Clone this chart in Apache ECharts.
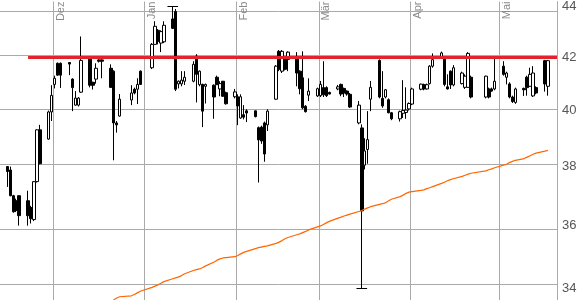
<!DOCTYPE html>
<html><head><meta charset="utf-8">
<script src="https://cdn.jsdelivr.net/npm/echarts@6/dist/echarts.min.js"></script>
<style>html,body{margin:0;padding:0;background:#fff}#c{width:587px;height:300px}</style>
</head><body><div id="c"></div>
<script>
const dates = [
'2010-11-15','2010-11-16','2010-11-17','2010-11-18','2010-11-19','2010-11-22','2010-11-23','2010-11-24','2010-11-25','2010-11-26','2010-11-29','2010-11-30',
'2010-12-01','2010-12-02','2010-12-03','2010-12-06','2010-12-07','2010-12-08','2010-12-09','2010-12-10','2010-12-13','2010-12-14','2010-12-15','2010-12-16','2010-12-17','2010-12-20','2010-12-21','2010-12-22','2010-12-23','2010-12-27','2010-12-28','2010-12-29','2010-12-30',
'2011-01-03','2011-01-04','2011-01-05','2011-01-06','2011-01-07','2011-01-10','2011-01-11','2011-01-12','2011-01-13','2011-01-14','2011-01-17','2011-01-18','2011-01-19','2011-01-20','2011-01-21','2011-01-24','2011-01-25','2011-01-26','2011-01-27','2011-01-28','2011-01-31',
'2011-02-01','2011-02-02','2011-02-03','2011-02-04','2011-02-07','2011-02-08','2011-02-09','2011-02-10','2011-02-11','2011-02-14','2011-02-15','2011-02-16','2011-02-17','2011-02-18','2011-02-21','2011-02-22','2011-02-23','2011-02-24','2011-02-25','2011-02-28',
'2011-03-01','2011-03-02','2011-03-03','2011-03-04','2011-03-07','2011-03-08','2011-03-09','2011-03-10','2011-03-11','2011-03-14','2011-03-15','2011-03-16','2011-03-17','2011-03-18','2011-03-21','2011-03-22','2011-03-23','2011-03-24','2011-03-25','2011-03-28','2011-03-29','2011-03-30','2011-03-31',
'2011-04-01','2011-04-04','2011-04-05','2011-04-06','2011-04-07','2011-04-08','2011-04-11','2011-04-12','2011-04-13','2011-04-14','2011-04-15','2011-04-18','2011-04-19','2011-04-20','2011-04-21','2011-04-26','2011-04-27','2011-04-28','2011-04-29',
'2011-05-02','2011-05-03','2011-05-04','2011-05-05','2011-05-06','2011-05-09','2011-05-10','2011-05-11','2011-05-12','2011-05-13','2011-05-16','2011-05-17'
];
const opens = [
38.00,37.88,37.00,36.83,37.00,36.83,36.60,36.20,37.48,39.30,38.97,39.95,
40.97,41.77,41.77,41.80,41.17,40.20,40.20,40.68,41.96,41.05,41.17,41.90,41.90,41.58,41.47,39.55,39.80,40.39,40.79,40.79,41.47,
41.60,42.50,43.05,42.55,42.60,43.50,43.80,40.99,40.99,41.09,41.09,42.05,40.96,40.97,40.90,40.94,41.24,40.80,41.09,40.66,40.51,
40.51,39.73,39.85,39.99,39.99,39.38,39.40,39.55,39.48,40.42,42.23,41.47,41.92,41.92,41.97,41.47,41.22,40.16,40.57,40.54,
40.55,40.85,40.85,40.67,40.80,40.97,40.82,40.72,40.60,39.55,39.37,38.05,38.60,40.42,41.88,40.45,40.50,40.40,39.92,39.70,39.90,39.93,40.06,
40.24,40.79,40.96,40.80,41.00,41.66,42.00,42.00,40.88,41.47,40.95,41.00,40.86,40.86,41.24,40.50,40.80,40.80,40.80,
41.66,41.24,40.99,40.50,40.30,40.82,41.24,40.90,40.54,40.85,41.87,40.90
];
const closes = [
37.83,37.00,36.46,36.50,36.33,36.33,36.23,37.48,39.30,38.10,39.95,40.56,
41.20,41.32,41.32,41.74,40.85,40.46,40.46,41.88,40.94,40.94,41.58,41.85,41.85,40.86,39.55,39.48,40.42,40.65,40.65,40.97,40.97,
42.50,43.21,42.62,43.00,43.25,43.13,40.79,41.09,41.13,41.24,41.73,41.35,41.47,39.98,40.97,40.50,40.96,41.00,40.53,40.25,40.69,
40.17,40.51,39.76,39.91,39.78,38.94,38.90,38.44,39.98,41.66,41.54,42.23,41.54,42.20,41.40,40.81,40.10,39.96,40.72,40.81,
40.97,40.58,40.55,40.61,40.88,40.61,40.65,40.61,40.13,40.20,36.49,38.55,38.95,40.86,40.50,40.17,40.77,39.92,39.70,39.96,40.00,40.02,40.26,
40.80,40.98,40.80,40.96,41.66,41.91,42.17,40.97,40.80,40.95,41.60,41.40,41.28,42.15,40.50,41.28,40.50,40.72,41.09,
41.35,41.40,40.50,40.33,40.80,40.77,40.85,41.35,41.40,40.65,40.99,41.87
];
const lows = [
37.30,36.98,36.43,36.45,36.00,36.00,36.07,36.15,37.45,38.08,38.95,39.62,
40.82,41.30,40.84,41.32,39.98,40.18,40.15,40.65,40.86,40.78,41.00,41.80,41.20,40.84,38.22,39.20,39.78,40.20,40.60,40.24,40.95,
41.55,42.48,42.50,42.20,42.55,43.10,40.72,40.82,40.90,40.95,41.05,40.30,40.90,39.40,40.26,39.70,40.95,40.53,40.50,40.22,40.45,
39.47,39.70,39.68,39.58,39.75,37.45,38.80,38.17,39.26,40.40,41.47,41.40,41.50,41.47,40.90,40.60,40.05,39.93,40.35,40.50,
40.50,40.50,40.50,40.60,40.75,40.53,40.50,40.55,40.10,39.50,34.00,37.90,38.10,39.98,40.45,40.10,40.45,39.90,39.65,39.60,39.73,39.70,40.00,
40.20,40.75,40.75,40.78,40.97,41.60,41.95,40.90,40.78,40.80,40.90,40.97,40.80,40.85,40.45,40.45,40.45,40.70,40.75,
41.30,40.97,40.45,40.28,40.25,40.54,40.55,40.88,40.50,40.60,40.70,40.55
];
const highs = [
38.02,38.00,37.03,36.90,37.02,37.17,36.66,37.50,39.32,39.48,40.00,40.94,
41.30,41.80,41.80,41.82,41.20,40.72,40.50,42.81,42.05,41.07,41.77,41.92,41.92,41.73,41.50,39.62,40.61,40.94,40.85,41.20,41.50,
42.55,43.41,43.10,43.05,43.41,44.00,43.90,41.12,41.47,41.47,41.85,42.12,41.50,41.00,41.00,40.97,41.30,41.09,41.10,40.70,40.80,
40.60,40.60,40.20,40.05,40.00,39.42,39.45,39.60,40.05,41.70,42.28,42.28,41.95,42.23,42.20,41.50,42.23,40.20,41.20,40.85,
41.10,41.85,40.90,40.70,40.95,41.00,40.85,40.75,40.65,40.35,39.50,39.00,39.98,41.10,41.92,41.47,40.80,40.45,39.95,40.00,41.13,40.86,40.30,
40.85,41.00,41.00,41.00,41.70,42.15,42.22,42.05,41.35,41.50,41.70,41.45,41.35,42.20,41.30,41.30,40.85,40.85,41.97,
41.85,41.45,41.05,40.55,40.85,40.85,41.30,41.60,41.66,40.90,41.90,41.90
];
const maStart = '2010-12-20';
const maValues = [
33.58,33.63,33.69,33.73,33.76,33.80,33.85,33.90,
34.02,34.06,34.10,34.15,34.20,34.29,34.32,34.35,34.39,34.45,34.55,34.58,34.60,34.64,34.69,34.82,34.88,34.92,34.95,34.96,34.99,
35.03,35.08,35.13,35.16,35.25,35.28,35.30,35.32,35.34,35.42,35.46,35.51,35.57,35.61,35.70,35.73,35.77,35.81,35.86,35.96,
35.99,36.04,36.09,36.14,36.25,36.28,36.32,36.35,36.38,36.47,36.50,36.55,36.59,36.63,36.71,36.73,36.76,36.82,36.88,36.97,37.02,37.08,37.12,
37.14,37.18,37.20,37.24,37.27,37.31,37.42,37.46,37.51,37.55,37.58,37.66,37.70,37.74,37.77,37.85,37.89,37.92,37.96,
38.05,38.08,38.14,38.18,38.22,38.28,38.33,38.38,38.43,38.47,38.54,38.57
];
const yTicks = [34, 36, 38, 40, 42, 44];
const monthStarts = ['2010-12-01','2011-01-01','2011-02-01','2011-03-01','2011-04-01','2011-05-01'];
const monthLabels = ['Dez','Jan','Feb','Mär','Apr','Mai'];
const resistanceLevel = 42;
const resistanceStart = '2010-11-22';

const DAY = 86400000;
function tsDay(s){const p=s.split('-').map(Number);return Date.UTC(p[0],p[1]-1,p[2]);}
function tsNoon(s){return tsDay(s)+DAY/2;}
const L = Math.log;

const xMin = tsDay('2010-11-13');
const xMax = xMin + 188.6*DAY;
const yMin = L(33.63), yMax = L(44.20);

const candleData = dates.map((d,i)=>[tsNoon(d), L(opens[i]), L(closes[i]), L(lows[i]), L(highs[i])]);
const i0 = dates.indexOf(maStart);
const maData = maValues.map((v,k)=>[tsNoon(dates[i0+k]), L(v)]);

let iHi = 0, iLo = 0;
highs.forEach((v,i)=>{ if (v > highs[iHi]) iHi = i; });
lows.forEach((v,i)=>{ if (v < lows[iLo]) iLo = i; });
const capHalf = 1.8*DAY;

const monthTs = monthStarts.map(tsDay);
const gridColor = '#aaaaaa';
const font = 'Liberation Sans, Arial, sans-serif';

const monthLines = monthTs.map((t,i)=>({
  xAxis: t,
  label: {show: true, formatter: monthLabels[i], position: 'insideEndBottom', distance: [0, 2],
          color: '#8a8a8a', fontSize: 11, fontFamily: font}
}));
const priceLines = yTicks.map(v=>({yAxis: L(v), label: {show: false}}));

const chart = echarts.init(document.getElementById('c'), null, {renderer:'canvas'});
chart.setOption({
  useUTC: true,
  animation: false,
  backgroundColor: '#fff',
  grid: {left: 0, right: 30, top: 0, bottom: 0, containLabel: false},
  xAxis: {
    type: 'time', position: 'top', min: xMin, max: xMax,
    axisLine: {show: false}, axisTick: {show: false}, splitLine: {show: false},
    axisLabel: {show: false}
  },
  yAxis: {
    type: 'value', position: 'right', min: yMin, max: yMax,
    axisLine: {show: true, lineStyle: {color: gridColor, width: 1}},
    axisTick: {show: false}, splitLine: {show: false},
    axisLabel: {
      customValues: yTicks.map(L),
      formatter: v => String(Math.round(Math.exp(v))),
      margin: 5, color: '#555', fontSize: 13, fontFamily: font
    }
  },
  series: [
    {
      type: 'candlestick', name: 'Kurs',
      data: candleData, encode: {x: 0, y: [1,2,3,4]},
      barWidth: 3, z: 2,
      itemStyle: {color: '#ffffff', color0: '#000000', borderColor: '#000000', borderColor0: '#000000', borderColorDoji: '#000000', borderWidth: 1},
      markLine: {
        silent: true, z: 1, symbol: 'none', animation: false,
        lineStyle: {color: gridColor, width: 1, type: 'solid'},
        data: monthLines.concat(priceLines)
      }
    },
    {
      type: 'line', name: 'GD', data: maData, showSymbol: false, z: 3,
      lineStyle: {color: '#ff6600', width: 1.2}, itemStyle: {color: '#ff6600'},
      markLine: {
        silent: true, symbol: 'none', animation: false, label: {show: false},
        data: [
          [{coord: [tsNoon(resistanceStart), L(resistanceLevel)], lineStyle: {color: '#e3222b', width: 3, type: 'solid'}},
           {coord: [xMax, L(resistanceLevel)]}],
          [{coord: [tsNoon(dates[iHi]) - capHalf, L(highs[iHi])], lineStyle: {color: '#000', width: 1, type: 'solid'}},
           {coord: [tsNoon(dates[iHi]) + capHalf, L(highs[iHi])]}],
          [{coord: [tsNoon(dates[iLo]) - capHalf, L(lows[iLo])], lineStyle: {color: '#000', width: 1, type: 'solid'}},
           {coord: [tsNoon(dates[iLo]) + capHalf, L(lows[iLo])]}]
        ]
      }
    }
  ]
});
</script></body></html>
